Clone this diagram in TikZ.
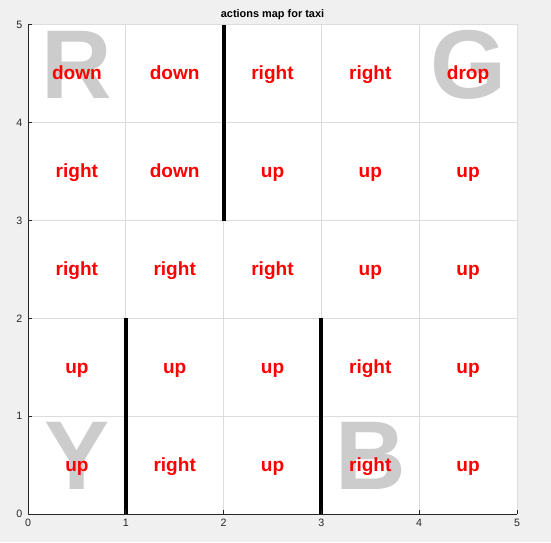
\documentclass[tikz,border=0pt]{standalone}
\usepackage{fontspec}
\setmainfont{Liberation Sans}
\usetikzlibrary{positioning}
\definecolor{figbg}{HTML}{F0F0F0}
\definecolor{gridgray}{HTML}{DCDCDC}
\definecolor{axisdark}{HTML}{262626}
\definecolor{markgray}{HTML}{CCCCCC}

\begin{document}
\begin{tikzpicture}[
    x=73.35pt, y=73.35pt,
    action/.style={text=red, font=\fontsize{14.3pt}{16pt}\selectfont\bfseries, anchor=base, inner sep=0pt},
    landmark/.style={text=markgray, font=\fontsize{73.3pt}{80pt}\selectfont\bfseries, inner sep=0pt},
    wall/.style={line width=3pt, black},
    ticklabel/.style={text=axisdark, font=\fontsize{8pt}{9pt}\selectfont, inner sep=0pt}
]
% figure and axes background
\fill[figbg] (-0.2863,-0.2863) rectangle (5.3476,5.2556);
\fill[white] (0,0) rectangle (5,5);
\useasboundingbox (-0.2863,-0.2863) rectangle (5.3476,5.2556);

% grid
\foreach \i in {1,...,4} {
    \draw[gridgray, line width=0.75pt] (\i,0) -- (\i,5);
    \draw[gridgray, line width=0.75pt] (0,\i) -- (5,\i);
}
\draw[gridgray, line width=0.75pt] (0,5) -- (5,5) -- (5,0);

% landmarks
\node[landmark] (lmR) at (0.5,4.592) {R};
\node[landmark] (lmG) at (4.5,4.592) {G};
\node[landmark] (lmY) at (0.5,0.592) {Y};
\node[landmark] (lmB) at (3.5,0.592) {B};

% actions per cell
\foreach \y/\acts in {4/{down,down,right,right,drop},
                      3/{right,down,up,up,up},
                      2/{right,right,right,up,up},
                      1/{up,up,up,right,up},
                      0/{up,right,up,right,up}} {
    \foreach \a [count=\c from 0] in \acts
        \node[action] (act-\c-\y) at (\c+0.5,\y+0.439) {\a};
}

% walls
\draw[wall] (2,3) -- (2,5);
\draw[wall] (1,0) -- (1,2);
\draw[wall] (3,0) -- (3,2);

% axes
\draw[axisdark, line width=0.75pt] (0,5) -- (0,0) -- (5,0);
\foreach \i in {0,...,5} {
    \draw[axisdark, line width=0.75pt] (\i,0) -- (\i,0.041);
    \draw[axisdark, line width=0.75pt] (0,\i) -- (0.041,\i);
    \node[ticklabel, anchor=north] (xt\i) at (\i,-0.049) {\i};
    \node[ticklabel, anchor=east] (yt\i) at (-0.055,\i) {\i};
}

% title
\node[anchor=base, inner sep=0pt, font=\fontsize{8.2pt}{9pt}\selectfont\bfseries] (title) at (2.5,5.0716) {actions map for taxi};
\end{tikzpicture}
\end{document}
